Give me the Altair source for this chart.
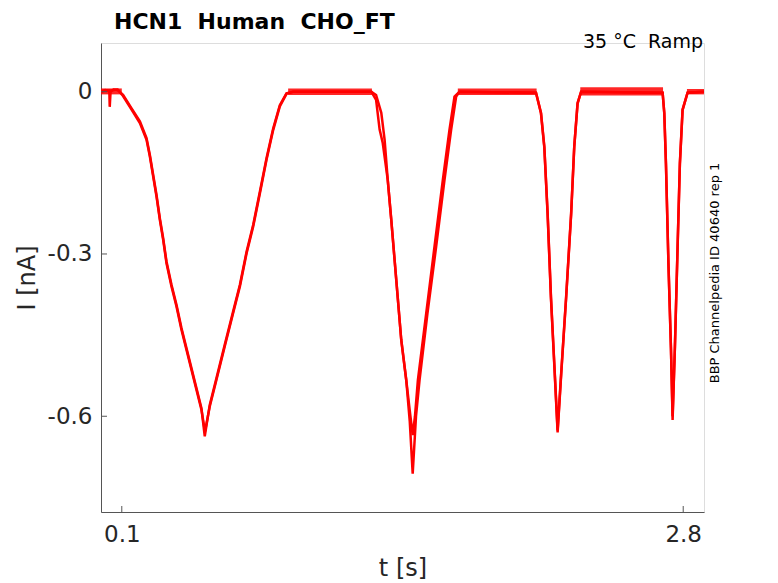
import altair as alt
import pandas as pd

# ---- data ----
t_a = [0.000, 0.020, 0.040, 0.042, 0.046, 0.060, 0.080, 0.106, 0.147, 0.187, 0.219, 0.235,
       0.251, 0.267, 0.283, 0.299, 0.315, 0.339, 0.363, 0.387, 0.411, 0.435, 0.459, 0.483,
       0.499, 0.523, 0.555, 0.595, 0.635, 0.668, 0.700, 0.732, 0.764, 0.796, 0.828, 0.860,
       0.892, 0.924, 1.300, 1.323, 1.340, 1.355, 1.379, 1.396, 1.420,
       1.444, 1.468, 1.485, 1.499, 1.510, 1.524, 1.564, 1.604, 1.644, 1.676, 1.700, 1.724,
       2.092, 2.116, 2.132, 2.148, 2.164, 2.180, 2.196, 2.213, 2.237, 2.261, 2.276, 2.292,
       2.309, 2.701, 2.709, 2.717, 2.729, 2.741, 2.749, 2.760, 2.773, 2.784, 2.797, 2.821,
       2.900]
i_a = [0.000, 0.002, 0.002, -0.028, 0.000, 0.004, 0.003, -0.006, -0.031, -0.055, -0.086, -0.117,
       -0.154, -0.191, -0.234, -0.271, -0.314, -0.357, -0.394, -0.437, -0.474, -0.511, -0.548, -0.585,
       -0.637, -0.579, -0.530, -0.468, -0.407, -0.357, -0.296, -0.246, -0.185, -0.123, -0.068, -0.025,
       -0.003, 0.000, 0.000, -0.015, -0.070, -0.095, -0.163, -0.237, -0.348,
       -0.459, -0.533, -0.590, -0.635, -0.600, -0.533, -0.410, -0.286, -0.163, -0.070, -0.009, 0.000,
       -0.002, -0.039, -0.101, -0.225, -0.379, -0.502, -0.626, -0.521, -0.379, -0.225, -0.101, -0.021,
       0.000, -0.002, -0.039, -0.132, -0.317, -0.472, -0.607, -0.472, -0.286, -0.132, -0.033, -0.002,
       0.000]

# second repetition differs mainly in the second ramp
t_b = [0.000, 0.020, 0.040, 0.060, 0.080, 0.106, 0.147, 0.187, 0.219, 0.235, 0.251, 0.267,
       0.283, 0.299, 0.315, 0.339, 0.363, 0.387, 0.411, 0.435, 0.459, 0.483, 0.500, 0.523,
       0.555, 0.595, 0.635, 0.668, 0.700, 0.732, 0.764, 0.796, 0.828, 0.860, 0.892, 0.924,
       1.300, 1.323, 1.348, 1.364, 1.379, 1.396, 1.420, 1.444, 1.468,
       1.485, 1.499, 1.515, 1.532, 1.570, 1.612, 1.652, 1.684, 1.708, 1.724, 2.092, 2.116,
       2.132, 2.148, 2.164, 2.180, 2.196, 2.213, 2.237, 2.261, 2.276, 2.292, 2.309, 2.701,
       2.709, 2.717, 2.729, 2.741, 2.749, 2.760, 2.773, 2.784, 2.797, 2.821, 2.900]
i_b = [0.000, 0.003, 0.001, 0.003, 0.004, -0.008, -0.033, -0.058, -0.089, -0.120, -0.157, -0.194,
       -0.237, -0.274, -0.317, -0.360, -0.397, -0.440, -0.477, -0.514, -0.551, -0.588, -0.628, -0.582,
       -0.533, -0.471, -0.410, -0.360, -0.299, -0.249, -0.188, -0.126, -0.071, -0.027, -0.004, 0.000,
       0.000, -0.006, -0.039, -0.089, -0.163, -0.237, -0.348, -0.459, -0.533,
       -0.610, -0.706, -0.600, -0.533, -0.410, -0.286, -0.163, -0.070, -0.009, 0.000, -0.002, -0.040,
       -0.103, -0.228, -0.382, -0.505, -0.630, -0.524, -0.381, -0.227, -0.102, -0.022, 0.000, -0.002,
       -0.040, -0.134, -0.319, -0.474, -0.600, -0.474, -0.288, -0.134, -0.034, -0.002, 0.000]

# holding-level noise envelope (flat stretches)
flat_start = [0.000, 0.900, 1.716, 2.305, 2.818]
flat_end = [0.100, 1.303, 2.095, 2.703, 2.900]
noise_hi = [0.006, 0.006, 0.006, 0.008, 0.005]
noise_lo = [-0.005, -0.006, -0.006, -0.007, -0.005]

x_ticks = [0.1, 2.8]
y_ticks = [0.0, -0.3, -0.6]
x_domain = [0.0, 2.9]
y_domain = [-0.777, 0.090]

title_text = "HCN1\u00a0 Human\u00a0 CHO_FT"
cond_text = "35 °C\u00a0 Ramp"
side_text = "BBP Channelpedia ID 40640 rep 1"

# ---- build tables ----
traces = pd.concat([
    pd.DataFrame({"t": t_a, "I": i_a, "rep": "a"}),
    pd.DataFrame({"t": t_b, "I": i_b, "rep": "b"}),
])
noise = pd.DataFrame({"t0": flat_start, "t1": flat_end, "hi": noise_hi, "lo": noise_lo})

W, H = 603, 469
RED = "#ff0000"
FONT = "DejaVu Sans"
xs = alt.Scale(domain=x_domain, nice=False, zero=False)
ys = alt.Scale(domain=y_domain, nice=False, zero=False)

x_axis = alt.Axis(values=x_ticks, ticks=False, grid=False, domainColor="#555555",
                  labelFontSize=23, labelColor="#262626", labelFont=FONT, labelPadding=11,
                  title="t [s]", titleFontSize=24, titleFontWeight="normal", titleColor="#262626",
                  titleFont=FONT, titleBaseline="middle", titleX=W / 2, titleY=56)
y_axis = alt.Axis(values=y_ticks, ticks=False, grid=False, domainColor="#555555",
                  labelFontSize=23, labelColor="#262626", labelFont=FONT, labelPadding=9,
                  labelExpr="replace(format(datum.value, '~g'), '\u2212', '-')",
                  title="I [nA]", titleFontSize=24, titleFontWeight="normal", titleColor="#262626",
                  titleFont=FONT, titleAngle=270, titleBaseline="middle", titleAlign="center",
                  titleX=-74, titleY=H / 2)

lines = alt.Chart(traces).mark_line(color=RED, strokeWidth=2.5, clip=True).encode(
    x=alt.X("t:Q", scale=xs, axis=x_axis),
    y=alt.Y("I:Q", scale=ys, axis=y_axis),
    detail="rep:N",
)

band = alt.Chart(noise).mark_rect(color=RED, opacity=0.85).encode(
    x=alt.X("t0:Q", scale=xs), x2="t1:Q",
    y=alt.Y("hi:Q", scale=ys), y2="lo:Q",
)

xt = alt.Chart(pd.DataFrame({"v": x_ticks})).mark_rule(color="#555555", strokeWidth=1).encode(
    x=alt.X("v:Q", scale=xs), y=alt.value(H), y2=alt.value(H - 6))
yt = alt.Chart(pd.DataFrame({"v": y_ticks})).mark_rule(color="#555555", strokeWidth=1).encode(
    y=alt.Y("v:Q", scale=ys), x=alt.value(0), x2=alt.value(6))

title = alt.Chart(pd.DataFrame({"s": [title_text]})).mark_text(
    font=FONT, fontSize=22, fontWeight="bold", color="#000000", align="left",
    baseline="alphabetic").encode(text="s:N", x=alt.value(13), y=alt.value(-14))
cond = alt.Chart(pd.DataFrame({"s": [cond_text]})).mark_text(
    font=FONT, fontSize=19, color="#000000", align="right",
    baseline="alphabetic").encode(text="s:N", x=alt.value(W - 1), y=alt.value(5))
side = alt.Chart(pd.DataFrame({"s": [side_text]})).mark_text(
    font=FONT, fontSize=13, color="#000000", align="center", angle=270,
    baseline="middle").encode(text="s:N", x=alt.value(614), y=alt.value(230))

chart = alt.layer(band, lines, xt, yt, title, cond, side).properties(
    width=W, height=H,
    autosize=alt.AutoSizeParams(type="none"),
    padding={"left": 93, "top": 35, "right": 66, "bottom": 70},
).configure_view(strokeWidth=0).configure(background="white")

chart.save("out.html", embed_options={"renderer": "svg", "actions": False})
